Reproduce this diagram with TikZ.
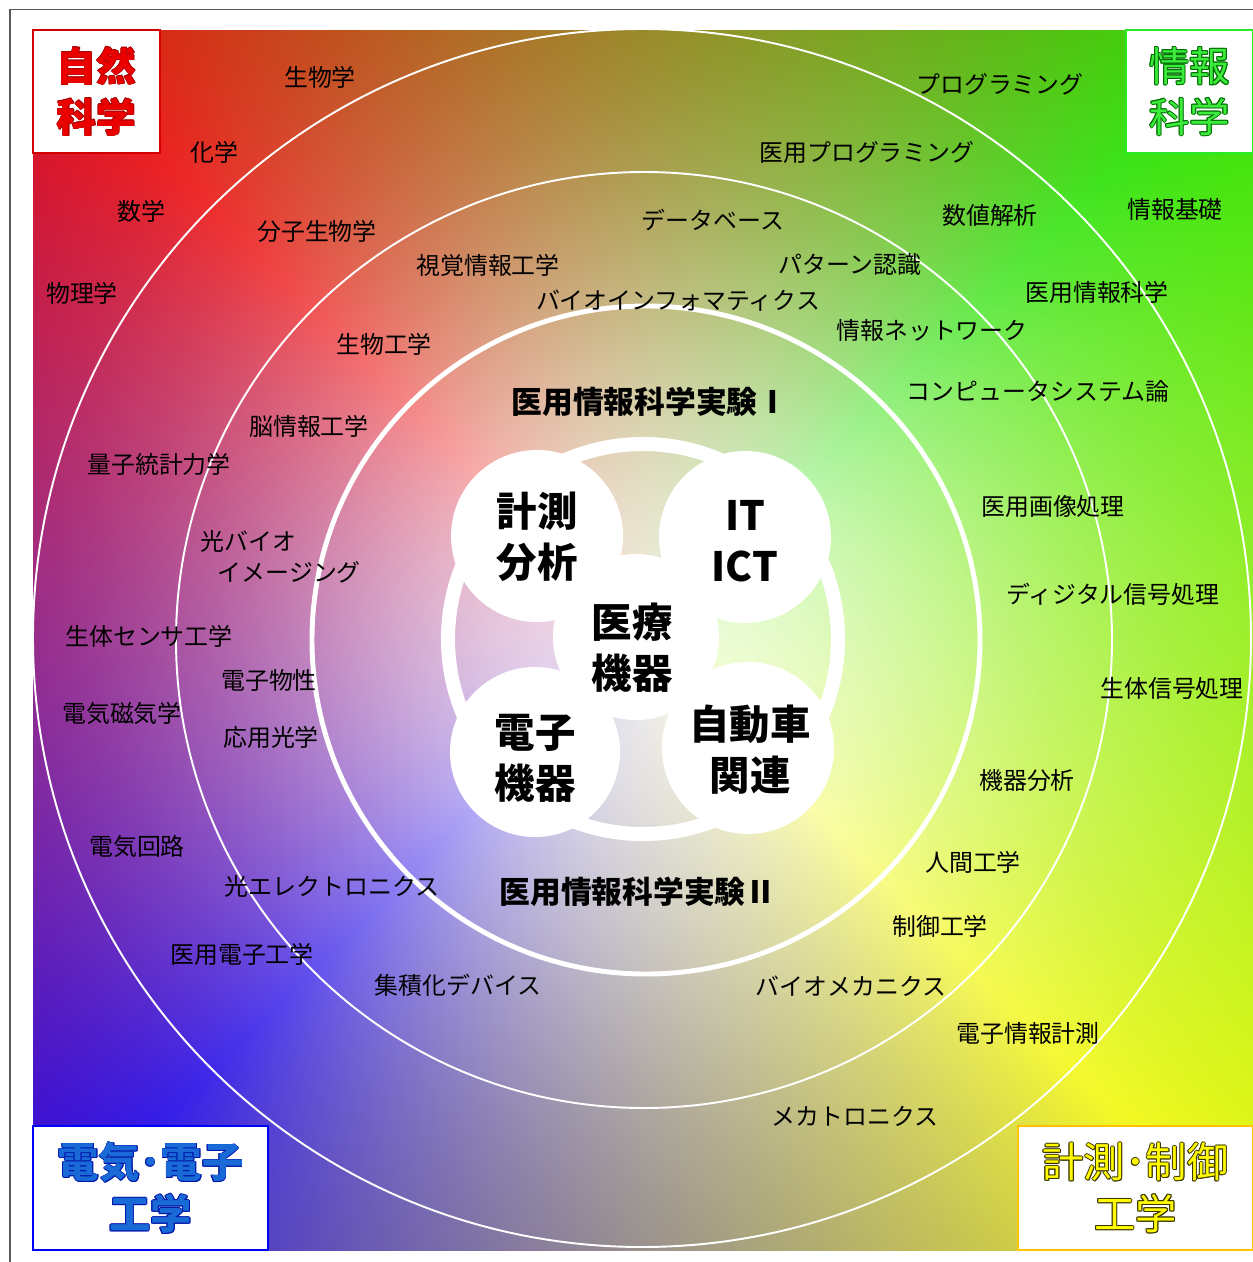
\documentclass[tikz,border=0pt]{standalone}
\usepackage{fontspec}
\newfontfamily\jp{Noto Sans CJK JP}
\definecolor{bxred}{RGB}{210,0,0}
\definecolor{bxgreen}{RGB}{40,235,40}
\definecolor{bxblue}{RGB}{0,0,250}
\definecolor{bxgold}{RGB}{255,195,0}
\definecolor{txred}{RGB}{235,0,0}
\definecolor{olred}{RGB}{170,0,0}
\definecolor{txgreen}{RGB}{60,235,60}
\definecolor{olgreen}{RGB}{0,110,0}
\definecolor{txblue}{RGB}{25,105,215}
\definecolor{olblue}{RGB}{0,20,170}
\definecolor{txyellow}{RGB}{255,250,0}
\definecolor{olyellow}{RGB}{60,55,0}
% four-quadrant colour field with a white glow in the middle
\pgfdeclarefunctionalshading{quadfield}{\pgfpoint{0bp}{0bp}}{\pgfpoint{100bp}{100bp}}{}{
50 sub exch 50 sub exch
2 copy dup mul exch dup mul add -357 div 2.71828 exch exp 0.85 mul
3 1 roll
2 copy add 3 1 roll exch sub
2 copy abs exch abs add 0.0001 add
3 1 roll 2 index div exch 2 index div exch 3 -1 roll pop
1 index abs 0.135 mul 2 index 0.015 mul add 1 index abs 0.935 mul add 1 index -0.015 mul add 1 4 index sub mul 3 index add 4 1 roll
1 index abs 0.45 mul 2 index 0.43 mul add 1 index abs 0.505 mul add 1 index -0.465 mul add 1 4 index sub mul 3 index add 4 1 roll
1 index abs 0.45 mul 2 index -0.45 mul add 1 index abs 0.045 mul add 1 index -0.005 mul add 1 4 index sub mul 3 index add 4 1 roll
pop pop pop
}
\newdimen\olw
\newcommand\olt[4]{{\olw=#1\relax\setbox0=\hbox{#4}%
 \rlap{\color{#2}\kern-\olw\copy0}%
 \rlap{\color{#2}\kern\olw\copy0}%
 \rlap{\color{#2}\raise\olw\copy0}%
 \rlap{\color{#2}\lower\olw\copy0}%
 \rlap{\color{#2}\kern-0.7\olw\raise0.7\olw\copy0}%
 \rlap{\color{#2}\kern0.7\olw\raise0.7\olw\copy0}%
 \rlap{\color{#2}\kern-0.7\olw\lower0.7\olw\copy0}%
 \rlap{\color{#2}\kern0.7\olw\lower0.7\olw\copy0}%
 {\color{#3}\copy0}}}
\tikzset{
 lbl/.style={font=\jp\fontsize{13.6}{16}\selectfont, inner sep=0pt, text=black},
 inlbl/.style={font=\jp\bfseries\fontsize{17.5}{21}\selectfont, inner sep=0pt, text=black},
 ctr/.style={font=\jp\bfseries\fontsize{23}{29}\selectfont, align=center, inner sep=0pt, text=black},
 cbox/.style={draw=#1, line width=1.2pt, fill=white, inner sep=0pt, align=center},
 thinring/.style={white, line width=1.1pt},
 petal/.style={fill=white},
}
\begin{document}
\begin{tikzpicture}[x=0.02cm,y=-0.02cm]
\useasboundingbox (0,0) rectangle (1253,1262);
\fill[white] (0,0) rectangle (1253,1262);
\draw[gray!70!black, line width=0.9pt] (10,1262) -- (10,9.5) -- (1253,9.5);
% background field
\shade[shading=quadfield] (33,30) rectangle (1253,1250);
\begin{scope}
\clip (33,30) rectangle (1253,1250);
\draw[thinring] (642,638) circle (609);
\draw[thinring] (644,640) circle (468);
\end{scope}
\draw[white, line width=2.8pt] (646,640) circle (334);
% central flower
\draw[white, line width=8pt] (643,639) circle (195);
\fill[petal] (537,536) circle (86);
\fill[petal] (745,537) circle (86);
\fill[petal] (535,752) circle (85);
\fill[petal] (748,748) circle (86);
\fill[petal] (636,637) circle (83);
\node[ctr] (keisokubunseki) at (537,537) {計測\\分析};
\node[ctr] (itict) at (745,541) {IT\\ICT};
\node[ctr] (iryokiki) at (632,648) {医療\\機器};
\node[ctr] (denshikiki) at (535,758) {電子\\機器};
\node[ctr] (jidosha) at (750,750) {自動車\\関連};
% inner labels
\node[inlbl] (exp1) at (650,402) {医用情報科学実験Ⅰ};
\node[inlbl] (exp2) at (638,892) {医用情報科学実験Ⅱ};
% outer band labels
\node[lbl] (seibutsugaku) at (320,77) {生物学};
\node[lbl] (kagaku) at (214,152) {化学};
\node[lbl] (suugaku) at (141,211) {数学};
\node[lbl] (butsuri) at (82,293) {物理学};
\node[lbl] (ryoshi) at (159,464) {量子統計力学};
\node[lbl] (sensor) at (149,636) {生体センサ工学};
\node[lbl] (denkijiki) at (122,713) {電気磁気学};
\node[lbl] (kairo) at (137,846) {電気回路};
\node[lbl] (iyodenshi) at (242,954) {医用電子工学};
\node[lbl] (mecha) at (855,1116) {メカトロニクス};
\node[lbl] (denshikeisoku) at (1028,1033) {電子情報計測};
\node[lbl] (seitaishingo) at (1172,688) {生体信号処理};
\node[lbl] (digital) at (1113,594) {ディジタル信号処理};
\node[lbl] (iyojoho) at (1097,292) {医用情報科学};
\node[lbl] (kiso) at (1175,209) {情報基礎};
\node[lbl] (suchi) at (990,215) {数値解析};
\node[lbl] (prog) at (1000,84) {プログラミング};
\node[lbl] (iyoprog) at (867,152) {医用プログラミング};
% middle band labels
\node[lbl] (bunshi) at (317,231) {分子生物学};
\node[lbl] (shikaku) at (488,265) {視覚情報工学};
\node[lbl] (db) at (713,220) {データベース};
\node[lbl] (pattern) at (850,264) {パターン認識};
\node[lbl] (bioinfo) at (678,301) {バイオインフォマティクス};
\node[lbl] (network) at (932,330) {情報ネットワーク};
\node[lbl] (seibutsukogaku) at (384,344) {生物工学};
\node[lbl] (nou) at (309,426) {脳情報工学};
\node[lbl] (comp) at (1038,391) {コンピュータシステム論};
\node[lbl] (gazo) at (1053,506) {医用画像処理};
\node[lbl, align=left, anchor=west, font=\jp\fontsize{13.6}{17.6}\selectfont] (hikaribio) at (200,556.5) {光バイオ\\\hspace*{10pt}イメージング};
\node[lbl] (bussei) at (269,680) {電子物性};
\node[lbl] (oyo) at (271,737) {応用光学};
\node[lbl] (kiki) at (1027,780) {機器分析};
\node[lbl] (ningen) at (973,862) {人間工学};
\node[lbl] (seigyo) at (940,926) {制御工学};
\node[lbl] (biomech) at (851,986) {バイオメカニクス};
\node[lbl] (optoel) at (332,886) {光エレクトロニクス};
\node[lbl] (shuseki) at (458,985) {集積化デバイス};
% corner boxes
\node[cbox=bxred, minimum width=2.54cm, minimum height=2.46cm, font=\jp\bfseries\fontsize{22.5}{29}\selectfont] (shizen) at (96.5,91.5) {\olt{0.3pt}{olred}{txred}{自然}\\\olt{0.3pt}{olred}{txred}{科学}};
\node[cbox=bxgreen, minimum width=2.54cm, minimum height=2.46cm, font=\jp\fontsize{23}{29}\selectfont] (johokagaku) at (1189.5,91.5) {\olt{0.55pt}{olgreen}{txgreen}{情報}\\\olt{0.55pt}{olgreen}{txgreen}{科学}};
\node[cbox=bxblue, minimum width=4.7cm, minimum height=2.48cm, font=\jp\bfseries\fontsize{23.5}{29.5}\selectfont] (denkidenshi) at (150.5,1188) {\olt{0.45pt}{olblue}{txblue}{電気･電子}\\\olt{0.45pt}{olblue}{txblue}{工学}};
\node[cbox=bxgold, minimum width=4.7cm, minimum height=2.48cm, font=\jp\fontsize{23.5}{29.5}\selectfont] (keisokuseigyo) at (1135.5,1188) {\olt{0.55pt}{olyellow}{txyellow}{計測･制御}\\\olt{0.55pt}{olyellow}{txyellow}{工学}};
\end{tikzpicture}
\end{document}
